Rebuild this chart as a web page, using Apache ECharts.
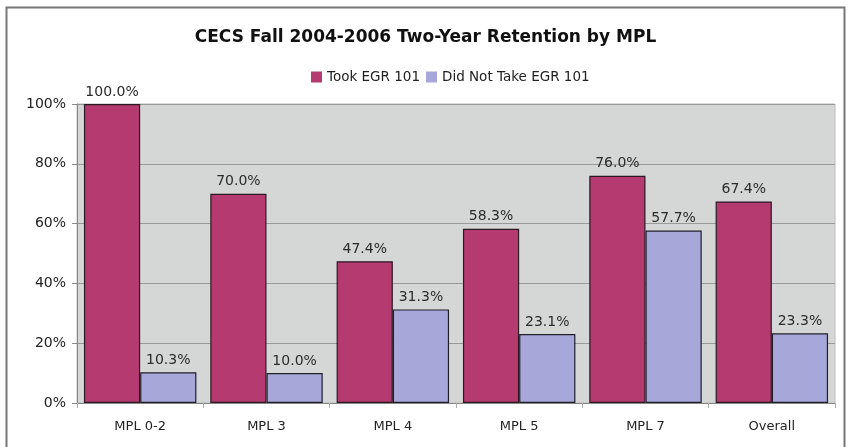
<!DOCTYPE html>
<html><head><meta charset="utf-8">
<script src="https://cdn.jsdelivr.net/npm/echarts@6/dist/echarts.min.js"></script>
<style>html,body{margin:0;padding:0;background:#fff}#c{width:851px;height:447px}</style>
</head><body><div id="c"></div>
<script>
const categories = ['MPL 0-2', 'MPL 3', 'MPL 4', 'MPL 5', 'MPL 7', 'Overall'];
const tookEGR = [100.0, 70.0, 47.4, 58.3, 76.0, 67.4];
const notTookEGR = [10.3, 10.0, 31.3, 23.1, 57.7, 23.3];
const seriesNames = ['Took EGR 101', 'Did Not Take EGR 101'];
const yTicks = [0, 20, 40, 60, 80, 100];

const font = 'DejaVu Sans, Verdana, sans-serif';
const chart = echarts.init(document.getElementById('c'), null, {renderer: 'canvas'});
const lbl = {show: true, position: 'top', distance: 5, color: '#2a2a2a', fontFamily: font, fontSize: 14,
  formatter: p => p.value.toFixed(1) + '%'};
chart.setOption({
  animation: false,
  backgroundColor: '#fff',
  graphic: [{type: 'rect', shape: {x: 6.5, y: 7.5, width: 838, height: 450}, style: {fill: 'none', stroke: '#777', lineWidth: 2}, z: -1}],
  title: {text: 'CECS Fall 2004-2006 Two-Year Retention by MPL', left: 'center', top: 24,
    textStyle: {fontFamily: font, fontSize: 17, fontWeight: 'bold', color: '#111'}},
  legend: {top: 65, left: 306, itemWidth: 11, itemHeight: 11, itemGap: 6, icon: 'rect',
    itemStyle: {borderWidth: 0},
    textStyle: {fontFamily: font, fontSize: 13.5, color: '#222'},
    data: seriesNames},
  grid: {left: 77, right: 16, top: 104, bottom: 44, backgroundColor: '#D5D7D6', show: true, borderWidth: 1, borderColor: '#bbb'},
  xAxis: {type: 'category', data: categories,
    axisLine: {lineStyle: {color: '#888'}}, axisTick: {show: true, lineStyle: {color: '#aaa'}},
    axisLabel: {fontFamily: font, fontSize: 13, color: '#222', margin: 17}},
  yAxis: {type: 'value', min: 0, max: 100, interval: 20,
    axisLine: {show: true, lineStyle: {color: '#888'}}, axisTick: {show: true, lineStyle: {color: '#888'}},
    splitLine: {lineStyle: {color: '#999'}},
    axisLabel: {fontFamily: font, fontSize: 14, color: '#222', margin: 11,
      formatter: v => yTicks.includes(v) ? v + '%' : ''}},
  series: [
    {name: seriesNames[0], type: 'bar', data: tookEGR, barGap: '0%', barCategoryGap: '11%',
      itemStyle: {color: '#B53A70', borderColor: '#2a1a22', borderWidth: 1.2}, label: lbl},
    {name: seriesNames[1], type: 'bar', data: notTookEGR,
      itemStyle: {color: '#A8A7D9', borderColor: '#1f1f2a', borderWidth: 1.2}, label: lbl}
  ]
});
</script></body></html>
